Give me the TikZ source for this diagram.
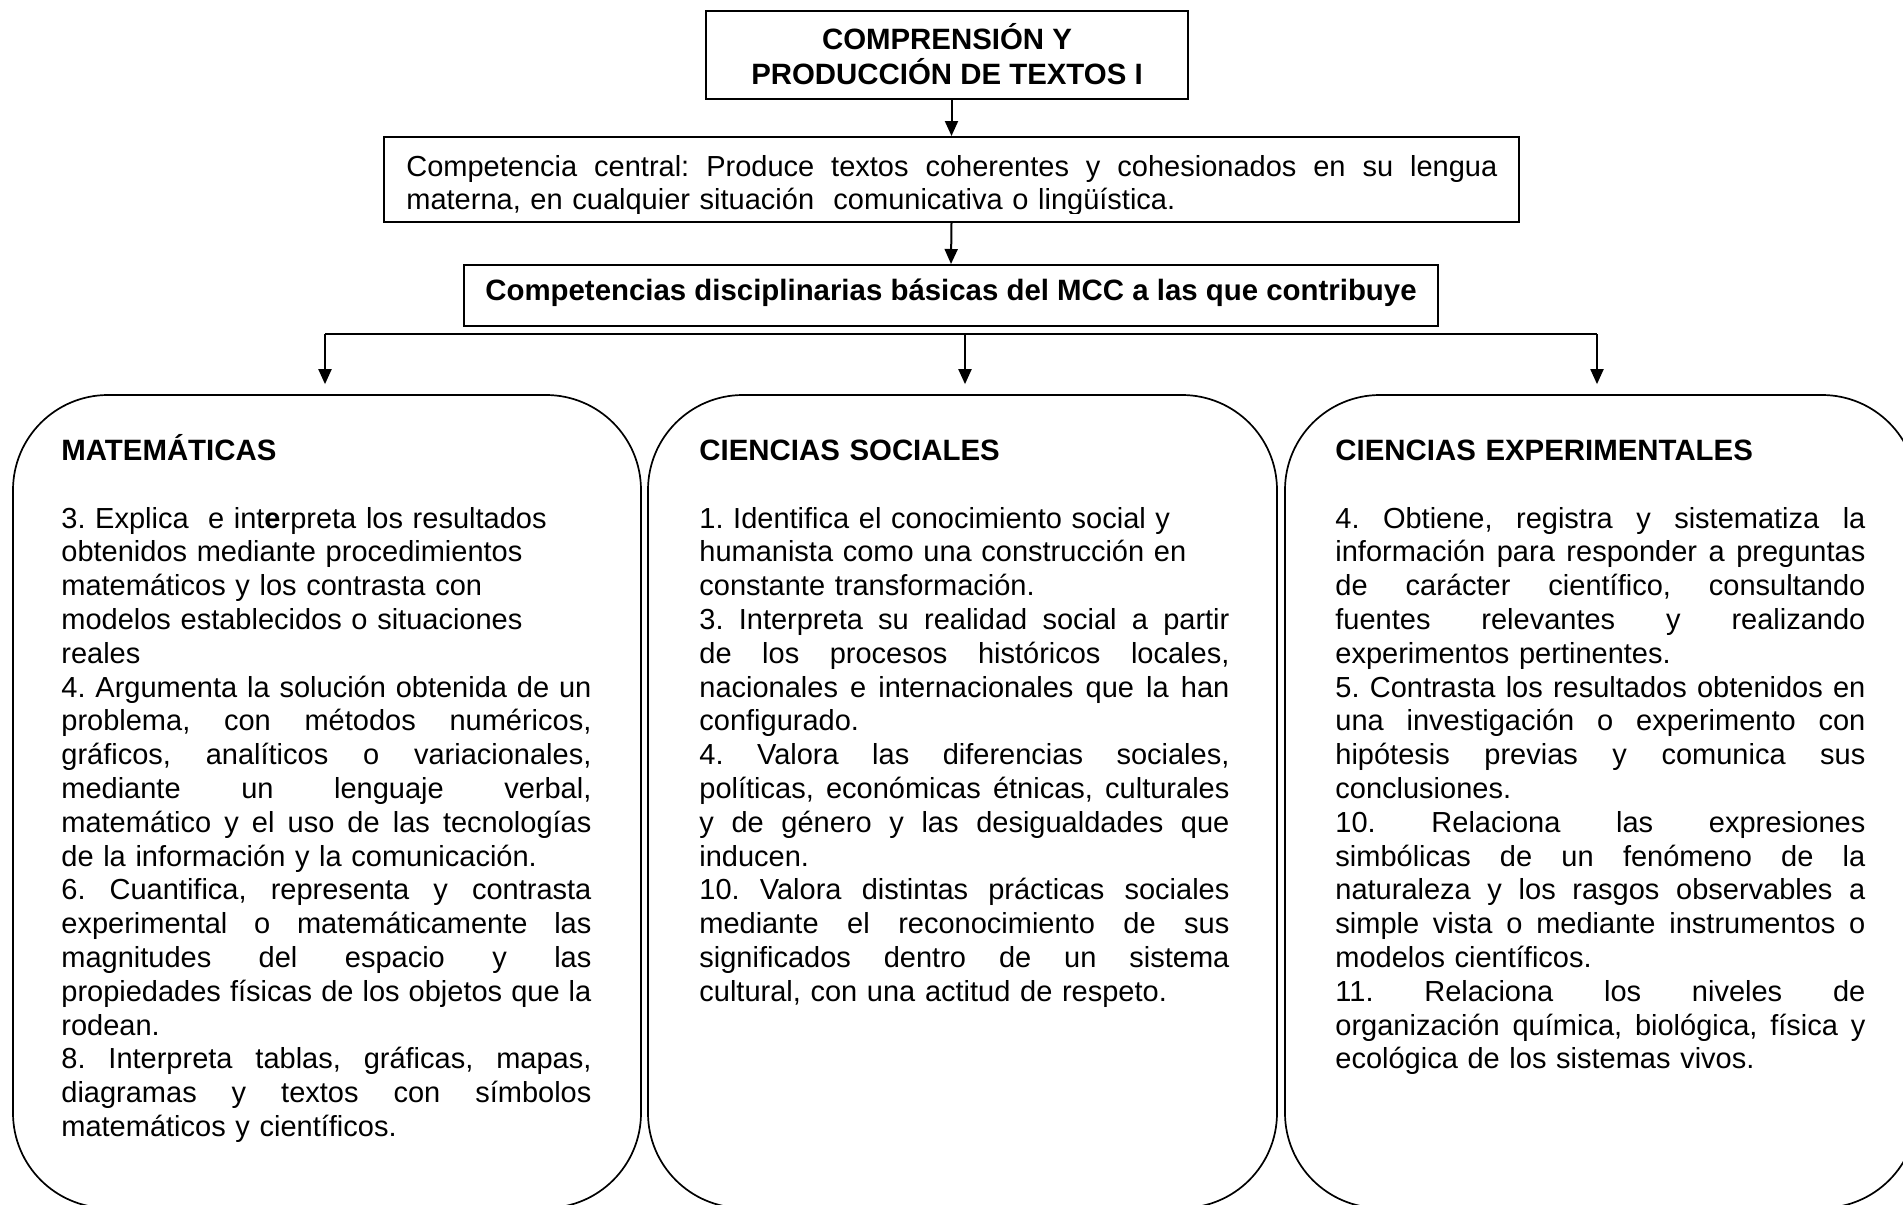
\documentclass[tikz,border=0pt]{standalone}
\usepackage{fontspec}
\setmainfont{Liberation Sans}
\usetikzlibrary{arrows.meta}
\newlength\colw
\setlength\colw{265pt}
\newcommand\JW[2]{{\spaceskip=0.278em plus 1fil\relax\xspaceskip=0.278em plus 1fil\relax\makebox[#1][s]{#2}}}
\newcommand\JL[1]{\JW{\colw}{#1}}
\newcommand\HD[1]{{\bfseries\fontsize{14.7}{16.9}\selectfont #1}}
\frenchspacing
\begin{document}
\begin{tikzpicture}[x=0.5pt,y=-0.5pt,
  sqbox/.style={draw, line width=1pt, rectangle, inner sep=0pt},
  rbox/.style={draw, line width=0.85pt, rectangle, rounded corners=47.5pt, inner sep=0pt, minimum height=406.5pt},
  conn/.style={line width=1pt, -{Triangle[length=7.5pt,width=6.5pt]}},
  bus/.style={line width=1pt},
  bodytext/.style={anchor=north west, inner sep=0pt, text width=265pt, align=left, font=\frenchspacing\fontsize{14.5}{16.9}\selectfont},
  boldtext/.style={inner sep=0pt, font=\bfseries\fontsize{14.7}{17.5}\selectfont},
]
\clip (0,0) rectangle (1903,1205);
\fill[white] (0,0) rectangle (1903,1205);

% top boxes
\node[sqbox, minimum width=241pt, minimum height=44pt] (title) at (947,55) {};
\node[boldtext, anchor=north, align=center] (titletext) at (947,19)
  {\rule{0pt}{15pt}COMPRENSIÓN Y\\PRODUCCIÓN DE TEXTOS I};

\node[sqbox, minimum width=567.5pt, minimum height=42.5pt] (central) at (951.5,179.5) {};
\begin{scope}
\clip (384,137) rectangle (1519,213);
\node[anchor=north west, inner sep=0pt, text width=545.5pt, align=left,
      font=\frenchspacing\fontsize{14.5}{16.5}\selectfont] (centraltext) at (406,146)
  {\rule{0pt}{15pt}\JW{545.5pt}{Competencia central: Produce textos coherentes y cohesionados en su lengua}\\
   materna, en cualquier situación\ \ comunicativa o lingüística.};
\end{scope}

\node[sqbox, minimum width=487pt, minimum height=30.5pt] (disc) at (951,295.5) {};
\node[boldtext, anchor=base] (disctext) at (951,300)
  {Competencias disciplinarias básicas del MCC a las que contribuye};

% rounded boxes
\node[rbox, minimum width=314pt] (mat) at (327,801.5) {};
\node[rbox, minimum width=314.5pt] (soc) at (962.5,801.5) {};
\node[rbox, minimum width=316pt] (exp) at (1601,801.5) {};

% connectors
\draw[conn] (title.south -| central.north) -- (central.north);
\draw[conn] (central.south) -- (disc.north);

\coordinate (busL) at (325,334);
\coordinate (busM) at (965,334);
\coordinate (busR) at (1597,334);
\draw[bus] (busL) -- (busR);
\draw[conn, shorten >=5pt] (busL) -- (busL |- mat.north);
\draw[conn, shorten >=5pt] (busM) -- (busM |- soc.north);
\draw[conn, shorten >=5pt] (busR) -- (busR |- exp.north);

% texts in rounded boxes
\node[bodytext] (mattext) at (61,430) {\rule{0pt}{15pt}\HD{MATEMÁTICAS}\\[16.9pt]
3. Explica\ \ e int\textbf{e}rpreta los resultados\\
obtenidos mediante procedimientos\\
matemáticos y los contrasta con\\
modelos establecidos o situaciones\\
reales\\
\JL{4. Argumenta la solución obtenida de un}\\
\JL{problema, con métodos numéricos,}\\
\JL{gráficos, analíticos o variacionales,}\\
\JL{mediante un lenguaje verbal,}\\
\JL{matemático y el uso de las tecnologías}\\
de la información y la comunicación.\\
\JL{6. Cuantifica, representa y contrasta}\\
\JL{experimental o matemáticamente las}\\
\JL{magnitudes del espacio y las}\\
\JL{propiedades físicas de los objetos que la}\\
rodean.\\
\JL{8. Interpreta tablas, gráficas, mapas,}\\
\JL{diagramas y textos con símbolos}\\
matemáticos y científicos.};

\node[bodytext] (soctext) at (699,430) {\rule{0pt}{15pt}\HD{CIENCIAS SOCIALES}\\[16.9pt]
1. Identifica el conocimiento social y\\
humanista como una construcción en\\
constante transformación.\\
\JL{3. Interpreta su realidad social a partir}\\
\JL{de los procesos históricos locales,}\\
\JL{nacionales e internacionales que la han}\\
configurado.\\
\JL{4. Valora las diferencias sociales,}\\
\JL{políticas, económicas étnicas, culturales}\\
\JL{y de género y las desigualdades que}\\
inducen.\\
\JL{10. Valora distintas prácticas sociales}\\
\JL{mediante el reconocimiento de sus}\\
\JL{significados dentro de un sistema}\\
cultural, con una actitud de respeto.};

\node[bodytext] (exptext) at (1335,430) {\rule{0pt}{15pt}\HD{CIENCIAS EXPERIMENTALES}\\[16.9pt]
\JL{4. Obtiene, registra y sistematiza la}\\
\JL{información para responder a preguntas}\\
\JL{de carácter científico, consultando}\\
\JL{fuentes relevantes y realizando}\\
experimentos pertinentes.\\
\JL{5. Contrasta los resultados obtenidos en}\\
\JL{una investigación o experimento con}\\
\JL{hipótesis previas y comunica sus}\\
conclusiones.\\
\JL{10. Relaciona las expresiones}\\
\JL{simbólicas de un fenómeno de la}\\
\JL{naturaleza y los rasgos observables a}\\
\JL{simple vista o mediante instrumentos o}\\
modelos científicos.\\
\JL{11. Relaciona los niveles de}\\
\JL{organización química, biológica, física y}\\
ecológica de los sistemas vivos.};
\end{tikzpicture}
\end{document}
